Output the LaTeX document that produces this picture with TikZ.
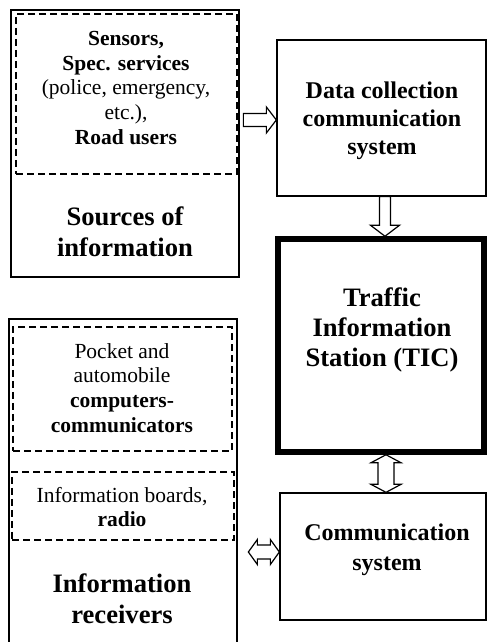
\documentclass[tikz,border=0pt]{standalone}
\usepackage{fontspec}
\setmainfont{Liberation Serif}
\usepackage{tikz}
\usetikzlibrary{calc}

\begin{document}
\begin{tikzpicture}[%
  x=1pt, y=1pt,
  box/.style={draw, line width=1.3pt, inner sep=0pt},
  dbox/.style={draw, line width=1.2pt, dash pattern=on 7pt off 4pt, inner sep=0pt},
  barrow/.style={draw, line width=1.2pt, fill=white, line join=miter},
  body/.style={align=center, font=\fontsize{21.5}{24.8}\selectfont},
  big/.style={align=center, font=\fontsize{26.6}{31.5}\selectfont\bfseries},
  mid/.style={align=center, font=\fontsize{24}{28}\selectfont\bfseries}]

\useasboundingbox (0,0) rectangle (487,642);
\clip (0,0) rectangle (487,642);

\node[box, minimum width=228, minimum height=267] (src) at (125,498.5) {};
\node[dbox, minimum width=221, minimum height=160] (srcin) at (126.5,548) {};
\node[body] (srctxt) at (126,554) {\textbf{Sensors,}\\ \textbf{Spec. services}\\ (police, emergency,\\ etc.),\\ \textbf{Road users}};
\node[big] (srclbl) at (125,410) {Sources of\\ information};

\node[box, minimum width=209, minimum height=156] (dcs) at (381.5,524) {};
\node[mid] (dcstxt) at (382,521) {Data collection\\ communication\\ system};

\node[draw, line width=5.5pt, inner sep=0pt, minimum width=206, minimum height=213] (tic) at (381,296.5) {};
\node[big, font=\fontsize{26.6}{30}\selectfont\bfseries] (tictxt) at (382,312) {Traffic\\ Information\\ Station (TIC)};

\node[box, minimum width=206, minimum height=127] (comm) at (383,85.5) {};
\node[mid, font=\fontsize{24}{30}\selectfont\bfseries] (commtxt) at (387,92) {Communication\\ system};

\node[box, minimum width=228, minimum height=343] (rcv) at (123,151.5) {};
\node[dbox, minimum width=219, minimum height=124] (rcva) at (122.5,253) {};
\node[body] (rcvatxt) at (122,254) {Pocket and\\ automobile\\ \textbf{computers-}\\ \textbf{communicators}};
\node[dbox, minimum width=222, minimum height=68] (rcvb) at (123,136) {};
\node[body] (rcvbtxt) at (122,135) {Information boards,\\ \textbf{radio}};
\node[big] (rcvlbl) at (122,43) {Information\\ receivers};

\draw[barrow] ($(dcs.west)+(0,-2)$) -- ++(-10,13) -- ++(0,-6.5) -- ++(-23,0) -- ++(0,-13)
  -- ++(23,0) -- ++(0,-6.5) -- cycle;
\draw[barrow] ($(tic.north)+(4,0)$) -- ++(-14.5,11) -- ++(9,0) -- ++(0,28.6) -- ++(11,0)
  -- ++(0,-28.6) -- ++(9,0) -- cycle;
\draw[barrow] ($(comm.north)+(3,0)$) -- ++(-15,8) -- ++(7,0) -- ++(0,21.6) -- ++(-7,0)
  -- ++(15,8) -- ++(15,-8) -- ++(-7,0) -- ++(0,-21.6) -- ++(7,0) -- cycle;
\draw[barrow] ($(comm.west)+(0,4.5)$) -- ++(-9,12.5) -- ++(0,-5.5) -- ++(-13,0) -- ++(0,5.5)
  -- ++(-9,-12.5) -- ++(9,-12.5) -- ++(0,5.5) -- ++(13,0) -- ++(0,-5.5) -- cycle;
\end{tikzpicture}
\end{document}
